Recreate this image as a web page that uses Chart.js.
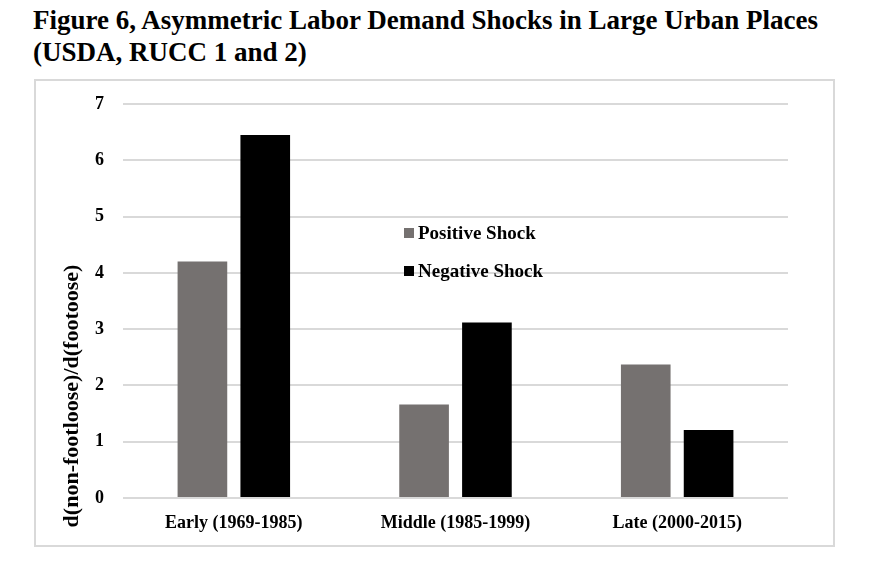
<!DOCTYPE html>
<html>
<head>
<meta charset="utf-8">
<script src="https://cdn.jsdelivr.net/npm/chart.js@4/dist/chart.umd.min.js"></script>
<style>
  body { margin: 0; background: #fff; }
  h1 {
    position: absolute; left: 33px; top: 4px; margin: 0;
    font: bold 27px/32px "Liberation Serif", "Times New Roman", serif;
    color: #000;
  }
  #box {
    position: absolute; left: 34px; top: 79px; width: 801px; height: 468px;
    border: 2px solid #d9d9d9; box-sizing: border-box;
  }
</style>
</head>
<body>
<h1>Figure 6, Asymmetric Labor Demand Shocks in Large Urban Places<br>(USDA, RUCC 1 and 2)</h1>
<div id="box"><canvas id="shockChart"></canvas></div>
<script>
const periods = ['Early (1969-1985)', 'Middle (1985-1999)', 'Late (2000-2015)'];
const positiveShock = [4.2, 1.66, 2.37];
const negativeShock = [6.45, 3.12, 1.21];
const yTicks = [0, 1, 2, 3, 4, 5, 6, 7];

const serif = '"Liberation Serif", "Times New Roman", serif';

// legend sits inside the plot, and the axis title is drawn by hand (Excel places it low)
const innerLegend = {
  id: 'innerLegend',
  afterDraw(chart) {
    const { ctx, chartArea } = chart;
    ctx.save();
    ctx.font = 'bold 19px ' + serif;
    ctx.textBaseline = 'middle';
    chart.data.datasets.forEach((ds, i) => {
      const x = chartArea.left + 281;
      const y = chartArea.top + 129 + i * 38;
      ctx.fillStyle = ds.backgroundColor;
      ctx.fillRect(x, y - 5, 10, 10);
      ctx.fillStyle = '#000';
      ctx.fillText(ds.label, x + 14, y + 1);
    });
    ctx.translate(chartArea.left - 51, chartArea.bottom - 102);
    ctx.rotate(-Math.PI / 2);
    ctx.textAlign = 'center';
    ctx.font = 'bold 22px ' + serif;
    ctx.fillText('d(non-footloose)/d(footoose)', 0, 0);
    ctx.restore();
  }
};

new Chart(document.getElementById('shockChart'), {
  type: 'bar',
  data: {
    labels: periods,
    datasets: [
      {
        label: 'Positive Shock',
        data: positiveShock,
        backgroundColor: '#757170',
        categoryPercentage: 0.567,
        barPercentage: 0.79
      },
      {
        label: 'Negative Shock',
        data: negativeShock,
        backgroundColor: '#000000',
        categoryPercentage: 0.567,
        barPercentage: 0.79
      }
    ]
  },
  options: {
    responsive: true,
    maintainAspectRatio: false,
    animation: false,
    layout: { padding: { left: 0, right: 45, top: 23, bottom: 0 } },
    plugins: {
      legend: { display: false },
      tooltip: { enabled: false }
    },
    scales: {
      x: {
        afterFit: (s) => { s.height = 47; },
        grid: { display: false, drawTicks: false },
        border: { display: false },
        ticks: { color: '#000', padding: 15, font: { family: serif, size: 18, weight: 'bold' } }
      },
      y: {
        min: 0,
        max: 7,
        afterFit: (s) => { s.width = 87; s.paddingTop = 0; s.paddingBottom = 0; },
        afterBuildTicks: (scale) => { scale.ticks = yTicks.map(v => ({ value: v })); },
        grid: { color: '#d9d9d9', lineWidth: 2, drawTicks: false },
        border: { display: false },
        ticks: { color: '#000', padding: 19, font: { family: serif, size: 18, weight: 'bold' } }
      }
    }
  },
  plugins: [innerLegend]
});
</script>
</body>
</html>
